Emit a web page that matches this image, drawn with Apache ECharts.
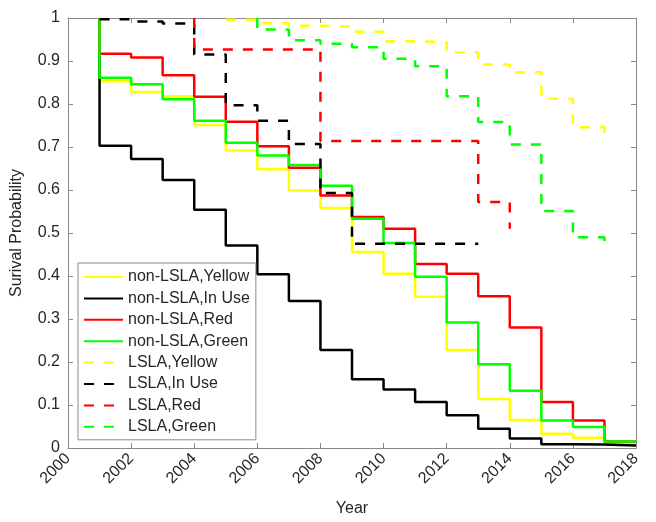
<!DOCTYPE html>
<html>
<head>
<meta charset="utf-8">
<script src="https://cdn.jsdelivr.net/npm/echarts@6/dist/echarts.min.js"></script>
<style>html,body{margin:0;padding:0;background:#fff}#c{width:656px;height:522px}</style>
</head>
<body>
<div id="c"></div>
<script>
// x tick labels
const xTicks = [2000, 2002, 2004, 2006, 2008, 2010, 2012, 2014, 2016, 2018];
const yTicks = [0, 0.1, 0.2, 0.3, 0.4, 0.5, 0.6, 0.7, 0.8, 0.9, 1];

// non-LSLA (solid): survival start at 1 in 2001, then yearly values 2001..2017, held to 2018
const nonYears = [2001, 2001, 2002, 2003, 2004, 2005, 2006, 2007, 2008, 2009, 2010, 2011, 2012, 2013, 2014, 2015, 2016, 2017, 2018];
const nonYellow = [1, 0.853, 0.828, 0.818, 0.751, 0.692, 0.648, 0.599, 0.558, 0.456, 0.405, 0.352, 0.228, 0.114, 0.065, 0.033, 0.024, 0.011, 0.011];
const nonInUse  = [1, 0.703, 0.672, 0.623, 0.554, 0.471, 0.404, 0.342, 0.228, 0.160, 0.136, 0.107, 0.076, 0.045, 0.022, 0.009, 0.008, 0.006, 0.006];
const nonRed    = [1, 0.917, 0.908, 0.867, 0.817, 0.759, 0.702, 0.652, 0.587, 0.537, 0.510, 0.428, 0.405, 0.353, 0.280, 0.107, 0.064, 0.015, 0.015];
const nonGreen  = [1, 0.861, 0.846, 0.811, 0.761, 0.710, 0.680, 0.658, 0.610, 0.533, 0.477, 0.398, 0.292, 0.195, 0.133, 0.064, 0.049, 0.015, 0.015];

// LSLA (dashed)
const lslaYellowYears = [2005, 2006, 2007, 2008, 2009, 2010, 2011, 2012, 2013, 2014, 2015, 2016, 2017];
const lslaYellow      = [0.996, 0.988, 0.982, 0.980, 0.968, 0.946, 0.944, 0.920, 0.892, 0.874, 0.812, 0.746, 0.716];
const lslaInUseYears  = [2001, 2002, 2003, 2004, 2005, 2006, 2007, 2008, 2009, 2013];
const lslaInUse       = [0.997, 0.992, 0.987, 0.915, 0.797, 0.761, 0.707, 0.593, 0.475, 0.475];
const lslaRedYears    = [2004, 2004, 2008, 2013, 2014];
const lslaRed         = [1, 0.927, 0.714, 0.572, 0.510];
const lslaGreenYears  = [2006, 2006, 2007, 2008, 2009, 2010, 2011, 2012, 2013, 2014, 2015, 2016, 2017];
const lslaGreen       = [1, 0.973, 0.948, 0.940, 0.932, 0.905, 0.888, 0.818, 0.758, 0.706, 0.551, 0.490, 0.458];

const names = ['non-LSLA,Yellow', 'non-LSLA,In Use', 'non-LSLA,Red', 'non-LSLA,Green',
               'LSLA,Yellow', 'LSLA,In Use', 'LSLA,Red', 'LSLA,Green'];

const zip = (xs, ys) => xs.map((x, i) => [x, ys[i]]);
const FONT = 'Liberation Sans, Arial, Helvetica, sans-serif';
const FRAME = '#8a8a8a';
const TXT = '#262626';

function mk(name, data, color, dashed) {
  return {
    name, type: 'line', step: 'end', symbol: 'none', data,
    xAxisIndex: 0, yAxisIndex: 0,
    lineStyle: { color, width: 2.5, type: dashed ? [10, 10] : 'solid' },
    itemStyle: { color },
    emphasis: { disabled: true }
  };
}

const series = [
  mk(names[0], zip(nonYears, nonYellow), '#ffff00', false),
  mk(names[1], zip(nonYears, nonInUse), '#000000', false),
  mk(names[2], zip(nonYears, nonRed), '#ff0000', false),
  mk(names[3], zip(nonYears, nonGreen), '#00ff00', false),
  mk(names[4], zip(lslaYellowYears, lslaYellow), '#ffff00', true),
  mk(names[5], zip(lslaInUseYears, lslaInUse), '#000000', true),
  mk(names[6], zip(lslaRedYears, lslaRed), '#ff0000', true),
  mk(names[7], zip(lslaGreenYears, lslaGreen), '#00ff00', true)
];

const xBase = {
  type: 'value', min: xTicks[0], max: xTicks[xTicks.length - 1], interval: 2,
  splitLine: { show: false },
  axisLine: { show: true, onZero: false, lineStyle: { color: FRAME, width: 1 } },
  axisTick: { show: true, inside: true, length: 5, lineStyle: { color: FRAME } }
};
const yBase = {
  type: 'value', min: 0, max: 1, interval: 0.1,
  splitLine: { show: false },
  axisLine: { show: true, onZero: false, lineStyle: { color: FRAME, width: 1 } },
  axisTick: { show: true, inside: true, length: 5, lineStyle: { color: FRAME } }
};

const chart = echarts.init(document.getElementById('c'), null, { renderer: 'canvas' });
chart.setOption({
  animation: false,
  backgroundColor: '#ffffff',
  textStyle: { fontFamily: FONT },
  grid: { left: 68, right: 20, top: 18, bottom: 73, containLabel: false },
  xAxis: [
    Object.assign({}, xBase, {
      position: 'bottom',
      name: 'Year', nameLocation: 'middle', nameGap: 53,
      nameTextStyle: { fontFamily: FONT, fontSize: 16, color: TXT },
      axisLabel: { rotate: 45, fontFamily: FONT, fontSize: 16, color: TXT, margin: 8,
                   formatter: v => String(v) }
    }),
    Object.assign({}, xBase, { position: 'top', axisLabel: { show: false } })
  ],
  yAxis: [
    Object.assign({}, yBase, {
      position: 'left',
      name: 'Surival Probability', nameLocation: 'middle', nameGap: 43,
      nameTextStyle: { fontFamily: FONT, fontSize: 16, color: TXT },
      axisLabel: { fontFamily: FONT, fontSize: 16, color: TXT, margin: 8,
                   formatter: v => String(+v.toFixed(1)) }
    }),
    Object.assign({}, yBase, { position: 'right', axisLabel: { show: false } })
  ],
  legend: {
    data: names,
    orient: 'vertical', left: 78, top: 263,
    itemWidth: 39, itemHeight: 14, itemGap: 5.4,
    padding: [6, 6, 5, 5],
    itemStyle: { opacity: 0 },
    backgroundColor: '#ffffff', borderColor: FRAME, borderWidth: 1,
    textStyle: { fontFamily: FONT, fontSize: 16, color: TXT },
    selectedMode: false
  },
  series
});
</script>
</body>
</html>
